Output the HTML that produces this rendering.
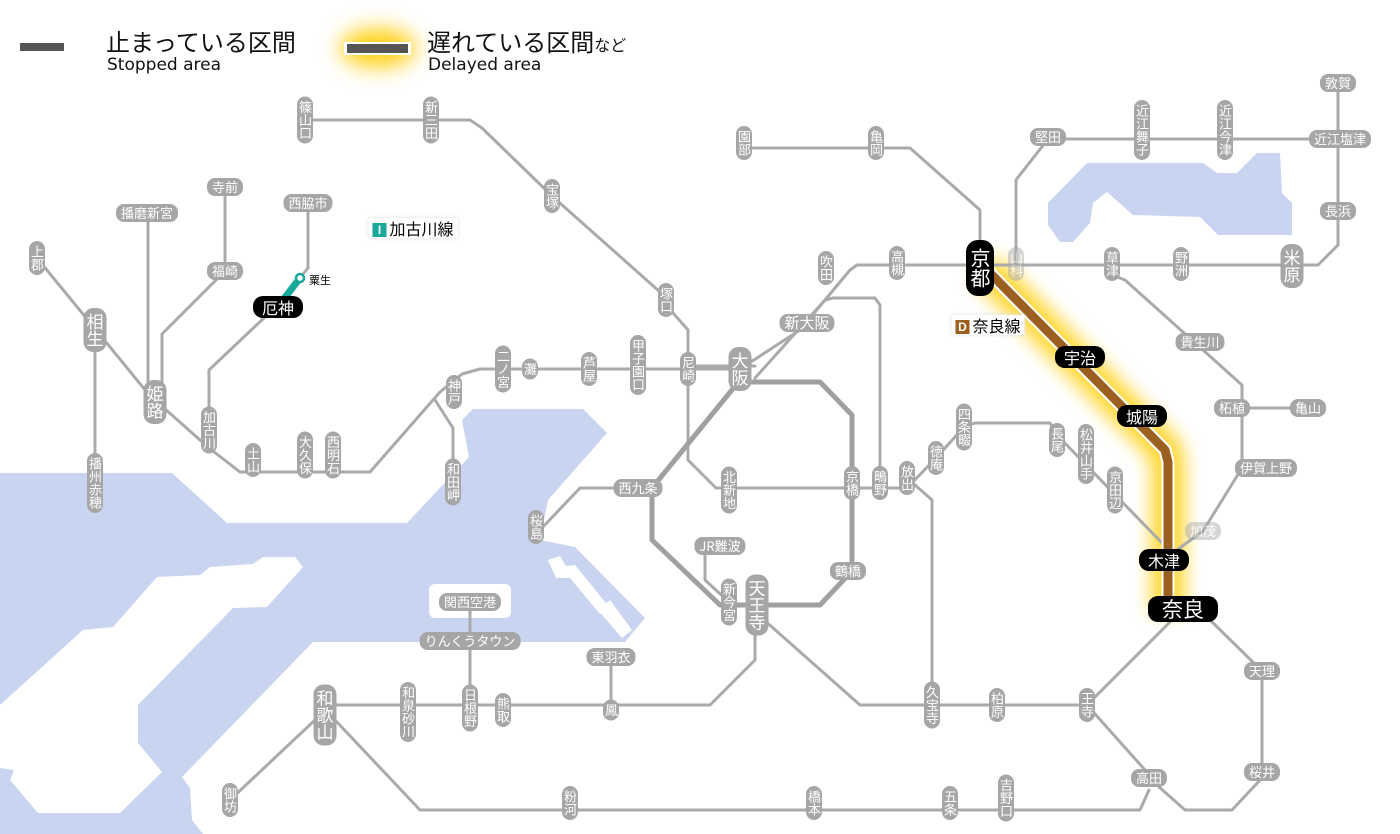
<!DOCTYPE html>
<html><head><meta charset="utf-8"><style>
body{margin:0;width:1400px;height:834px;overflow:hidden;background:#fff;position:relative;font-family:"Liberation Sans","Noto Sans CJK JP",sans-serif}
svg{position:absolute;left:0;top:0}
.s{position:absolute;transform:translate(-50%,-50%);background:#a6a6a6;color:#fff;font-size:13px;line-height:14px;border-radius:8px;padding:2px 5px;white-space:nowrap;font-family:"Noto Sans CJK JP",sans-serif}
.v{writing-mode:vertical-rl;padding:4px 1px;border-radius:8px}
.L{font-size:17px;line-height:19px;padding:5px 2px;border-radius:10px}
.b{background:#000}
.bh{font-size:16px;line-height:18px;padding:2px 9px;border-radius:10px}
.f{opacity:.45}
.leg{position:absolute;font-family:"Noto Sans CJK JP",sans-serif;color:#111}
.tag{position:absolute;transform:translate(-50%,-50%);background:#fff;font-size:16px;line-height:18px;padding:1px 4px;font-family:"Noto Sans CJK JP",sans-serif;box-shadow:0 0 4px #ddd;white-space:nowrap}
.tag i{display:inline-block;font-style:normal;color:#fff;font-size:12px;line-height:14px;width:14px;text-align:center;margin-right:3px;vertical-align:1px;font-family:"Liberation Sans",sans-serif;font-weight:bold}
</style></head><body>
<svg width="1400" height="834" viewBox="0 0 1400 834">
<defs>
<filter id="bl" x="-50%" y="-50%" width="200%" height="200%"><feGaussianBlur stdDeviation="9"/></filter>
<filter id="bl2" x="-100%" y="-200%" width="300%" height="500%"><feGaussianBlur stdDeviation="10"/></filter>
</defs>
<g fill="#c9d5f0">
<polygon points="0,473 172,473 227,523 407,523 469,457 462,420 473,409 583,409 607,433 548,500 540,540 575,547 645,618 625,642 313,642 182,777 190,788 192,820 203,834 0,834"/>
<polygon points="1087,163 1203,163 1217,173 1237,173 1257,153 1280,153 1282,193 1292,203 1292,235 1218,235 1200,217 1133,215 1107,192 1093,203 1090,223 1073,242 1060,242 1048,225 1048,203"/>
</g>
<g fill="#fff">
<polygon points="267,557 295,557 303,567 267,607 233,608 138,705 138,743 162,772 120,813 38,813 10,780 14,770 0,768 0,705 83,630 113,627 157,577 200,575 210,567 253,564 263,557"/>
<rect x="429" y="584" width="82" height="34" rx="6"/>
<polygon points="548,560 560,556 566,566 575,565 610,608 600,614 570,578 556,578"/>
<polygon points="598,610 610,600 632,630 622,638"/>
<polygon points="590,500 598,490 598,520 585,545 578,542"/>
</g>
<polyline points="985,268 1165,450 1168,462 1168,612" fill="none" stroke="#ffd21a" stroke-width="34" stroke-linejoin="round" filter="url(#bl)" opacity=".9"/>
<g fill="none" stroke="#aaa" stroke-width="3" stroke-linejoin="round" stroke-linecap="round">
<polyline points="305,120 470,120 482,128 552,196 660,292 666,305 688,330 688,460 716,488 907,488"/>
<polyline points="688,366 755,366"/>
<polyline points="155,400 209,448 240,472 370,472 440,392 462,374 480,369 740,369"/>
<polyline points="435,400 453,428 453,482"/>
<polyline points="37,258 155,402"/>
<polyline points="95,330 95,483"/>
<polyline points="148,213 148,402"/>
<polyline points="225,187 225,271 162,334 162,400"/>
<polyline points="308,203 308,268 300,278"/>
<polyline points="283,300 209,370 209,430"/>
<polyline points="620,488 580,488 540,530"/>
<polyline points="740,369 800,330 850,270 857,265 1292,265 1318,265 1338,245 1338,83"/>
<polyline points="755,378 825,300 833,298 875,298 880,305 880,483"/>
<polyline points="1016,264 1016,180 1048,139 1310,139"/>
<polyline points="744,148 910,148 980,210 980,240"/>
<polyline points="1112,275 1125,280 1242,385 1242,468 1203,531 1170,555"/>
<polyline points="1242,408 1308,408"/>
<polyline points="907,488 936,458 964,427 975,423 1050,423 1057,435 1164,545"/>
<polyline points="755,612 860,705 1087,705 1183,609"/>
<polyline points="1087,705 1145,770 1149,778 1185,810 1232,810 1262,778 1262,671 1210,620"/>
<polyline points="1149,790 1140,810 420,810 335,720"/>
<polyline points="755,625 755,660 710,705 325,705"/>
<polyline points="470,602 470,708"/>
<polyline points="611,657 611,710"/>
<polyline points="315,720 230,800"/>
<polyline points="915,485 932,500 932,705"/>
<polyline points="705,546 705,580 729,602"/>
</g>
<polyline points="748,382 820,382 852,415 852,571 820,605 720,605 652,540 652,488 740,380" fill="none" stroke="#a0a0a0" stroke-width="5" stroke-linejoin="round"/>
<polyline points="300,278 283,300" stroke="#1aa89a" stroke-width="7" stroke-linecap="round"/>
<circle cx="300" cy="278" r="4" fill="#fff" stroke="#1aa89a" stroke-width="2.5"/>
<polyline points="985,268 1165,450 1168,462 1168,612" fill="none" stroke="#fff" stroke-width="13" stroke-linejoin="round"/>
<polyline points="985,268 1165,450 1168,462 1168,612" fill="none" stroke="#9b5f1f" stroke-width="9" stroke-linejoin="round"/>
<rect x="20" y="43" width="44" height="8" fill="#555"/>
<ellipse cx="378" cy="48" rx="38" ry="20" fill="#ffd21a" filter="url(#bl2)"/>
<rect x="344" y="42" width="67" height="13" fill="#fff"/>
<rect x="347" y="44" width="61" height="9" fill="#555"/>
</svg>
<div class="leg" style="left:106px;top:26px;font-size:24px;line-height:30px">止まっている区間</div>
<div class="leg" style="left:107px;top:54px;font-size:17px;line-height:22px;font-family:'DejaVu Sans',sans-serif">Stopped area</div>
<div class="leg" style="left:427px;top:26px;font-size:24px;line-height:30px">遅れている区間<span style="font-size:16px">など</span></div>
<div class="leg" style="left:428px;top:54px;font-size:17px;line-height:22px;font-family:'DejaVu Sans',sans-serif">Delayed area</div>
<div class="tag" style="left:413px;top:228px"><i style="background:#1aa89a">I</i>加古川線</div>
<div class="tag" style="left:988px;top:325px"><i style="background:#9b5f1f">D</i>奈良線</div>
<div style="position:absolute;left:309px;top:272px;font-size:11px;font-family:'Noto Sans CJK JP',sans-serif">粟生</div>

<div class="s" style="left:225px;top:187px">寺前</div>
<div class="s" style="left:147px;top:213px">播磨新宮</div>
<div class="s" style="left:308px;top:203px">西脇市</div>
<div class="s" style="left:225px;top:271px">福崎</div>
<div class="s" style="left:638px;top:488px">西九条</div>
<div class="s" style="left:720px;top:546px">JR難波</div>
<div class="s" style="left:470px;top:602px">関西空港</div>
<div class="s" style="left:470px;top:641px">りんくうタウン</div>
<div class="s" style="left:611px;top:657px">東羽衣</div>
<div class="s" style="left:848px;top:571px">鶴橋</div>
<div class="s" style="left:807px;top:323px;font-size:15px">新大阪</div>
<div class="s" style="left:1200px;top:342px">貴生川</div>
<div class="s" style="left:1232px;top:408px">柘植</div>
<div class="s" style="left:1308px;top:408px">亀山</div>
<div class="s" style="left:1266px;top:468px">伊賀上野</div>
<div class="s f" style="left:1203px;top:531px">加茂</div>
<div class="s" style="left:1262px;top:671px">天理</div>
<div class="s" style="left:1262px;top:772px">桜井</div>
<div class="s" style="left:1149px;top:778px">高田</div>
<div class="s" style="left:1048px;top:137px">堅田</div>
<div class="s" style="left:1338px;top:83px">敦賀</div>
<div class="s" style="left:1340px;top:139px">近江塩津</div>
<div class="s" style="left:1338px;top:211px">長浜</div>
<div class="s b bh" style="left:1080px;top:357px">宇治</div>
<div class="s b bh" style="left:1142px;top:416px">城陽</div>
<div class="s b bh" style="left:1164px;top:560px">木津</div>
<div class="s b bh" style="left:1183px;top:609px;font-size:21px;line-height:24px;padding:1px 14px">奈良</div>
<div class="s b bh" style="left:278px;top:307px">厄神</div>
<div class="s v b L" style="left:980px;top:268px;font-size:20px;line-height:22px;padding:8px 3px;border-radius:12px">京都</div>

<div class="s v" style="left:305px;top:120px">篠山口</div>
<div class="s v" style="left:431px;top:120px">新三田</div>
<div class="s v" style="left:37px;top:258px">上郡</div>
<div class="s v L" style="left:95px;top:330px">相生</div>
<div class="s v" style="left:95px;top:483px">播州赤穂</div>
<div class="s v L" style="left:155px;top:402px">姫路</div>
<div class="s v" style="left:209px;top:430px">加古川</div>
<div class="s v" style="left:253px;top:460px">土山</div>
<div class="s v" style="left:305px;top:455px">大久保</div>
<div class="s v" style="left:333px;top:455px">西明石</div>
<div class="s v" style="left:454px;top:392px">神戸</div>
<div class="s v" style="left:453px;top:482px">和田岬</div>
<div class="s v" style="left:503px;top:369px">二ノ宮</div>
<div class="s v" style="left:530px;top:369px">灘</div>
<div class="s v" style="left:589px;top:369px">芦屋</div>
<div class="s v" style="left:638px;top:365px">甲子園口</div>
<div class="s v" style="left:688px;top:369px">尼崎</div>
<div class="s v L" style="left:740px;top:369px">大阪</div>
<div class="s v" style="left:552px;top:196px">宝塚</div>
<div class="s v" style="left:666px;top:300px">塚口</div>
<div class="s v" style="left:729px;top:490px">北新地</div>
<div class="s v" style="left:852px;top:483px">京橋</div>
<div class="s v" style="left:880px;top:483px">鴫野</div>
<div class="s v" style="left:907px;top:478px">放出</div>
<div class="s v" style="left:936px;top:458px">徳庵</div>
<div class="s v" style="left:964px;top:427px">四条畷</div>
<div class="s v" style="left:1057px;top:440px">長尾</div>
<div class="s v" style="left:1086px;top:454px">松井山手</div>
<div class="s v" style="left:1115px;top:490px">京田辺</div>
<div class="s v" style="left:536px;top:527px">桜島</div>
<div class="s v" style="left:729px;top:602px">新今宮</div>
<div class="s v L" style="left:757px;top:605px">天王寺</div>
<div class="s v" style="left:826px;top:268px">吹田</div>
<div class="s v" style="left:897px;top:263px">高槻</div>
<div class="s v" style="left:744px;top:143px">園部</div>
<div class="s v" style="left:876px;top:143px">亀岡</div>
<div class="s v f" style="left:1016px;top:264px">山科</div>
<div class="s v" style="left:1112px;top:264px">草津</div>
<div class="s v" style="left:1181px;top:264px">野洲</div>
<div class="s v L" style="left:1292px;top:266px">米原</div>
<div class="s v" style="left:1142px;top:130px">近江舞子</div>
<div class="s v" style="left:1225px;top:130px">近江今津</div>
<div class="s v L" style="left:325px;top:715px">和歌山</div>
<div class="s v" style="left:408px;top:712px">和泉砂川</div>
<div class="s v" style="left:470px;top:708px">日根野</div>
<div class="s v" style="left:503px;top:710px">熊取</div>
<div class="s v" style="left:611px;top:710px">鳳</div>
<div class="s v" style="left:230px;top:800px">御坊</div>
<div class="s v" style="left:570px;top:803px">粉河</div>
<div class="s v" style="left:814px;top:803px">橋本</div>
<div class="s v" style="left:950px;top:803px">五条</div>
<div class="s v" style="left:1006px;top:798px">吉野口</div>
<div class="s v" style="left:932px;top:705px">久宝寺</div>
<div class="s v" style="left:997px;top:705px">柏原</div>
<div class="s v" style="left:1087px;top:705px">王寺</div>
</body></html>
